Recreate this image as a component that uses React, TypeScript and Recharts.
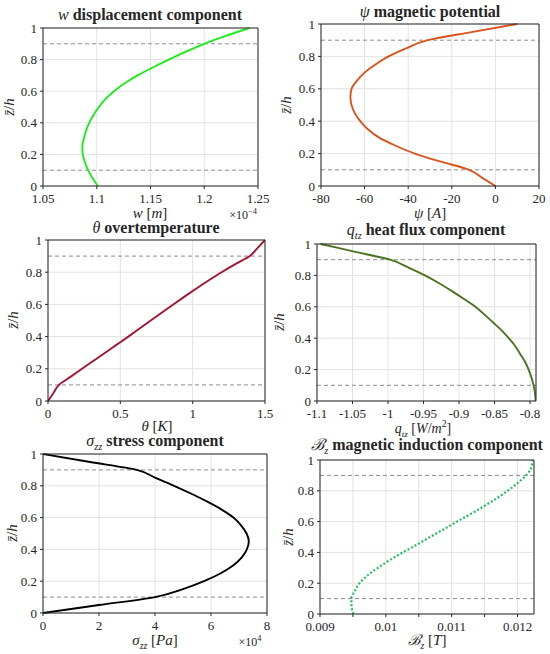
import React from 'react';
import { LineChart, Line, XAxis, YAxis, CartesianGrid, ReferenceLine } from 'recharts';

// thickness coordinate z/h shared by all six profiles
const zLevels = [0, 0.05, 0.1, 0.15, 0.2, 0.25, 0.3, 0.35, 0.4, 0.45, 0.5, 0.55, 0.6, 0.65, 0.7, 0.75, 0.8, 0.85, 0.9, 0.95, 1];

// w displacement (x 1e-4 m)
const wDisp = [1.101, 1.096, 1.092, 1.089, 1.087, 1.0866, 1.088, 1.09, 1.093, 1.097, 1.102, 1.108, 1.116, 1.126, 1.138, 1.152, 1.167, 1.183, 1.2, 1.22, 1.242];
// psi magnetic potential (A)
const psiPot = [0, -6, -12, -25, -37, -46, -53.5, -58.5, -62, -64.5, -66, -66.5, -66, -63.5, -60, -55, -49, -41, -31, -11, 10];
// theta overtemperature (K)
const thetaTemp = [0, 0.038, 0.076, 0.155, 0.235, 0.315, 0.395, 0.475, 0.555, 0.633, 0.71, 0.788, 0.866, 0.946, 1.028, 1.112, 1.2, 1.295, 1.395, 1.448, 1.5];
// q_tz heat flux (W/m^2)
const qFlux = [-0.792, -0.793, -0.795, -0.798, -0.802, -0.807, -0.814, -0.821, -0.83, -0.84, -0.852, -0.864, -0.877, -0.893, -0.91, -0.928, -0.948, -0.971, -0.997, -1.046, -1.095];
// sigma_zz stress (x 1e4 Pa)
const sigmaZZ = [0, 2.0, 4.0, 5.0, 5.75, 6.35, 6.8, 7.1, 7.28, 7.35, 7.27, 7.08, 6.8, 6.38, 5.87, 5.3, 4.68, 4.02, 3.35, 1.68, 0];
// B_z magnetic induction (T)
const bInd = [0.00951, 0.009478, 0.009475, 0.00953, 0.0096, 0.00972, 0.00988, 0.01006, 0.01026, 0.01047, 0.01067, 0.01088, 0.01108, 0.01129, 0.01149, 0.01168, 0.01185, 0.012, 0.01213, 0.01221, 0.01223];

const zTicks = [0, 0.2, 0.4, 0.6, 0.8, 1];
const zTickLabels = ['0', '0.2', '0.4', '0.6', '0.8', '1'];
const wTicks = [1.05, 1.1, 1.15, 1.2, 1.25];
const wTickLabels = ['1.05', '1.1', '1.15', '1.2', '1.25'];
const psiTicks = [-80, -60, -40, -20, 0, 20];
const psiTickLabels = ['-80', '-60', '-40', '-20', '0', '20'];
const thetaTicks = [0, 0.5, 1, 1.5];
const thetaTickLabels = ['0', '0.5', '1', '1.5'];
const qTicks = [-1.1, -1.05, -1, -0.95, -0.9, -0.85, -0.8];
const qTickLabels = ['-1.1', '-1.05', '-1', '-0.95', '-0.9', '-0.85', '-0.8'];
const sigmaTicks = [0, 2, 4, 6, 8];
const sigmaTickLabels = ['0', '2', '4', '6', '8'];
const bTicks = [0.009, 0.0095, 0.01, 0.0105, 0.011, 0.0115, 0.012];
const bTickLabels = ['0.009', '', '0.01', '', '0.011', '', '0.012'];
const interfaces = [0.1, 0.9];

const FONT = "'Liberation Serif', 'Times New Roman', Times, serif";
const INK = '#262626';

const pick = (ticks: number[], labels: string[], v: number) => {
  const i = ticks.findIndex((t) => Math.abs(t - v) < 1e-9);
  return i >= 0 ? labels[i] : '';
};

type PanelProps = {
  left: number;
  top: number;
  width: number;
  height: number;
  margin: { top: number; right: number; bottom: number; left: number };
  values: number[];
  color: string;
  dash?: string;
  domain: [number, number];
  ticks: number[];
  tickLabels: string[];
};

function Panel({ left, top, width, height, margin, values, color, dash, domain, ticks, tickLabels }: PanelProps) {
  const rows = zLevels.map((z, i) => ({ z, v: values[i] }));
  const xTick = (p: any) => (
    <text x={p.x} y={p.y} dy="0.71em" textAnchor="middle" fill={INK}
      style={{ fontFamily: FONT, fontSize: 13 }}>
      {pick(ticks, tickLabels, p.payload.value)}
    </text>
  );
  const yTick = (p: any) => (
    <text x={p.x} y={p.y} dy="0.35em" textAnchor="end" fill={INK}
      style={{ fontFamily: FONT, fontSize: 13 }}>
      {pick(zTicks, zTickLabels, p.payload.value)}
    </text>
  );
  return (
    <div style={{ position: 'absolute', left, top }}>
      <LineChart layout="vertical" width={width} height={height} data={rows} margin={margin}>
        <CartesianGrid stroke="#e2e2e2" />
        <XAxis type="number" dataKey="v" domain={domain} ticks={ticks} interval={0} allowDataOverflow
          height={20} tickSize={3} tickMargin={5} tick={xTick} stroke={INK} />
        <XAxis xAxisId="top" orientation="top" type="number" dataKey="v" domain={domain} ticks={ticks} interval={0}
          allowDataOverflow height={1} tickSize={3} tick={false} stroke={INK} />
        <YAxis type="number" dataKey="z" domain={[0, 1]} ticks={zTicks} interval={0} reversed
          width={40} tickSize={3} tickMargin={3} tick={yTick} stroke={INK} />
        <YAxis yAxisId="right" orientation="right" type="number" dataKey="z" domain={[0, 1]} ticks={zTicks}
          interval={0} reversed width={1} tickSize={3} tick={false} stroke={INK} />
        {interfaces.map((y) => (
          <ReferenceLine key={y} y={y} stroke="#8c8c8c" strokeDasharray="4 3" />
        ))}
        <Line type="monotone" dataKey="v" stroke={color} strokeWidth={dash ? 2.2 : 1.9} strokeDasharray={dash}
          dot={false} isAnimationActive={false} />
      </LineChart>
    </div>
  );
}

function Txt({ x, y, children, size = 15, bold = false, rotate = false }: {
  x: number; y: number; children: React.ReactNode; size?: number; bold?: boolean; rotate?: boolean;
}) {
  return (
    <div style={{
      position: 'absolute', left: x, top: y, whiteSpace: 'nowrap', color: INK,
      fontFamily: FONT, fontSize: size, fontWeight: bold ? 'bold' : 'normal', lineHeight: 1,
      transform: `translate(-50%, -50%)${rotate ? ' rotate(-90deg)' : ''}`,
    }}>
      {children}
    </div>
  );
}

const M = ({ children }: { children: React.ReactNode }) => (
  <i style={{ fontWeight: 'normal' }}>{children}</i>
);
const Sub = ({ children }: { children: React.ReactNode }) => (
  <sub style={{ fontSize: '0.65em', fontStyle: 'italic', fontWeight: 'normal' }}>{children}</sub>
);
const zh = <span><M>z̄</M>/<M>h</M></span>;

export default function App() {
  return (
    <div style={{ position: 'absolute', left: 0, top: 0, width: 550, height: 654, background: '#fff' }}>
      <Panel left={0} top={0} width={275} height={215} margin={{ top: 27, right: 16, bottom: 9, left: 3 }}
        values={wDisp} color="#1aee1a" domain={[1.05, 1.25]} ticks={wTicks} tickLabels={wTickLabels} />
      <Panel left={275} top={0} width={275} height={215} margin={{ top: 23, right: 10, bottom: 9, left: 6 }}
        values={psiPot} color="#d9531a" domain={[-80, 20]} ticks={psiTicks} tickLabels={psiTickLabels} />
      <Panel left={0} top={215} width={275} height={215} margin={{ top: 24, right: 9, bottom: 9, left: 8 }}
        values={thetaTemp} color="#a2142f" domain={[0, 1.5]} ticks={thetaTicks} tickLabels={thetaTickLabels} />
      <Panel left={275} top={215} width={275} height={215} margin={{ top: 28, right: 13, bottom: 9, left: 2 }}
        values={qFlux} color="#4b7320" domain={[-1.1, -0.7916]} ticks={qTicks} tickLabels={qTickLabels} />
      <Panel left={0} top={430} width={275} height={224} margin={{ top: 23, right: 7, bottom: 21, left: 3 }}
        values={sigmaZZ} color="#000000" domain={[0, 8]} ticks={sigmaTicks} tickLabels={sigmaTickLabels} />
      <Panel left={275} top={430} width={275} height={224} margin={{ top: 29, right: 15, bottom: 20, left: 5 }}
        values={bInd} color="#22c05c" dash="2 2" domain={[0.009, 0.01225]} ticks={bTicks} tickLabels={bTickLabels} />

      <Txt x={150} y={15} size={16} bold><M>w</M> displacement component</Txt>
      <Txt x={430} y={12} size={16} bold><M>ψ</M> magnetic potential</Txt>
      <Txt x={156} y={228} size={16} bold><M>θ</M> overtemperature</Txt>
      <Txt x={426} y={232} size={16} bold><M>q</M><Sub>tz</Sub> heat flux component</Txt>
      <Txt x={155} y={443} size={16} bold><M>σ</M><Sub>zz</Sub> stress component</Txt>
      <Txt x={427} y={447} size={16} bold><M>ℬ</M><Sub>z</Sub> magnetic induction component</Txt>

      <Txt x={150} y={213}><M>w</M> [<M>m</M>]</Txt>
      <Txt x={243} y={214} size={12}>×10<sup style={{ fontSize: '0.7em' }}>−4</sup></Txt>
      <Txt x={430} y={213}><M>ψ</M> [<M>A</M>]</Txt>
      <Txt x={157} y={426}><M>θ</M> [<M>K</M>]</Txt>
      <Txt x={423} y={429} size={14}><M>q</M><Sub>tz</Sub> [<M>W</M>/<M>m</M><sup style={{ fontSize: '0.7em' }}>2</sup>]</Txt>
      <Txt x={155} y={642}><M>σ</M><Sub>zz</Sub> [<M>Pa</M>]</Txt>
      <Txt x={250} y={641} size={12}>×10<sup style={{ fontSize: '0.7em' }}>4</sup></Txt>
      <Txt x={427} y={642}><M>ℬ</M><Sub>z</Sub> [<M>T</M>]</Txt>

      <Txt x={9} y={107} rotate>{zh}</Txt>
      <Txt x={286} y={105} rotate>{zh}</Txt>
      <Txt x={13} y={320} rotate>{zh}</Txt>
      <Txt x={279} y={322} rotate>{zh}</Txt>
      <Txt x={12} y={533} rotate>{zh}</Txt>
      <Txt x={288} y={537} rotate>{zh}</Txt>
    </div>
  );
}
